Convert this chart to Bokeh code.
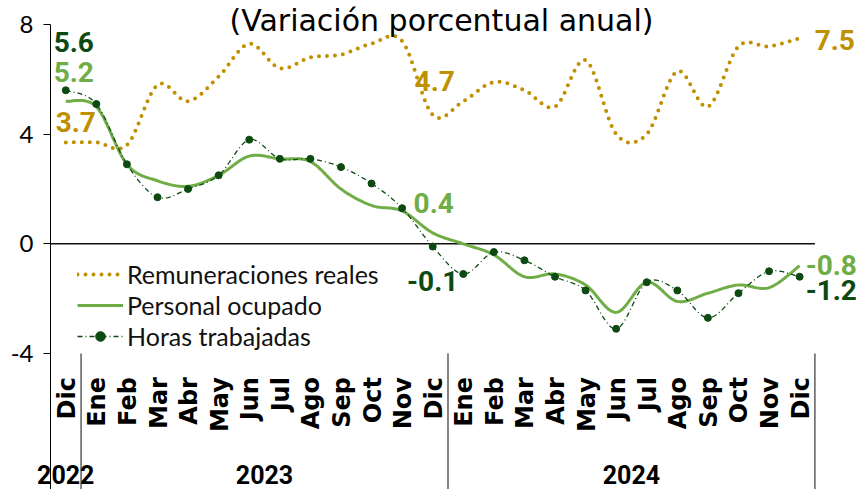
import numpy as np
from bokeh.plotting import figure
from bokeh.models import Range1d, FixedTicker, Legend, LegendItem, Label, PrintfTickFormatter
from bokeh.core.properties import value
from bokeh.embed import file_html
from bokeh.resources import INLINE

# ---------------- data ----------------
months = ["Dic", "Ene", "Feb", "Mar", "Abr", "May", "Jun", "Jul", "Ago", "Sep", "Oct", "Nov", "Dic",
          "Ene", "Feb", "Mar", "Abr", "May", "Jun", "Jul", "Ago", "Sep", "Oct", "Nov", "Dic"]
years = ["2022", "2023", "2024"]
months_per_year = [1, 12, 12]

remuneraciones = [3.7, 3.7, 3.6, 5.8, 5.2, 6.1, 7.3, 6.4, 6.8, 6.9, 7.3, 7.4, 4.7,
                  5.2, 5.9, 5.6, 5.0, 6.7, 4.0, 4.0, 6.3, 5.0, 7.2, 7.2, 7.5]
personal = [5.2, 5.0, 2.9, 2.3, 2.1, 2.5, 3.2, 3.1, 3.0, 2.0, 1.4, 1.2, 0.4,
            0.0, -0.4, -1.2, -1.1, -1.5, -2.5, -1.4, -2.1, -1.8, -1.5, -1.6, -0.8]
horas = [5.6, 5.1, 2.9, 1.7, 2.0, 2.5, 3.8, 3.1, 3.1, 2.8, 2.2, 1.3, -0.1,
         -1.1, -0.3, -0.6, -1.2, -1.7, -3.1, -1.4, -1.7, -2.7, -1.8, -1.0, -1.2]
y_ticks = [-4, 0, 4, 8]

GOLD = "#BF9000"
LGREEN = "#70AD47"
DGREEN = "#0D4A12"

xs = np.arange(len(months), dtype=float)
n = len(months)


def smooth(x, y, steps=20):
    """Excel-like smoothed line (Catmull-Rom drawn as cubic Bezier)."""
    x = np.asarray(x, float)
    y = np.asarray(y, float)
    N = len(x)
    outx, outy = [], []
    t = np.linspace(0, 1, steps, endpoint=False)
    for i in range(N - 1):
        i0 = max(i - 1, 0)
        i3 = min(i + 2, N - 1)
        p1 = np.array([x[i], y[i]])
        p2 = np.array([x[i + 1], y[i + 1]])
        c1 = p1 + (p2 - np.array([x[i0], y[i0]])) / 6.0
        c2 = p2 - (np.array([x[i3], y[i3]]) - p1) / 6.0
        for tt in t:
            b = ((1 - tt) ** 3) * p1 + 3 * ((1 - tt) ** 2) * tt * c1 + 3 * (1 - tt) * tt ** 2 * c2 + tt ** 3 * p2
            outx.append(b[0])
            outy.append(b[1])
    outx.append(x[-1])
    outy.append(y[-1])
    return outx, outy


W, H = 856, 489
XMIN, XMAX = -2.135, 25.86
YMIN, YMAX = -8.96, 8.875
AXIS_X = -0.5
p = figure(width=W, height=H, output_backend="svg", toolbar_location=None,
           x_axis_type=None, x_range=Range1d(XMIN, XMAX), y_range=Range1d(YMIN, YMAX),
           min_border_left=0, min_border_right=0, min_border_top=0, min_border_bottom=0)
p.outline_line_color = None
p.grid.visible = False

# y axis, placed at the left edge of the first category
ax = p.yaxis[0]
ax.fixed_location = AXIS_X
ax.bounds = (YMIN, max(y_ticks))
ax.ticker = FixedTicker(ticks=y_ticks)
ax.formatter = PrintfTickFormatter(format="%d")
ax.minor_tick_line_color = None
ax.major_tick_out = 7
ax.major_tick_in = 0
ax.major_label_standoff = 10
ax.major_label_text_font = "Lato"
ax.major_label_text_font_size = "24px"
ax.major_label_text_color = "black"
ax.axis_line_color = "black"
ax.major_tick_line_color = "black"

# zero line across the categories
p.segment(x0=[AXIS_X], y0=[0], x1=[n - 0.5], y1=[0], line_color="#111111", line_width=1.5)

# year separators
bounds = np.cumsum(months_per_year) - 0.5
p.segment(x0=bounds, y0=[min(y_ticks)] * len(bounds), x1=bounds, y1=[YMIN] * len(bounds),
          line_color="#333333", line_width=1.2)

# series
gx, gy = smooth(xs, remuneraciones)
r_gold = p.line(gx, gy, line_color=GOLD, line_width=4, line_dash="0 8", line_cap="round")
lx, ly = smooth(xs, personal)
r_green = p.line(lx, ly, line_color=LGREEN, line_width=3)
hx, hy = smooth(xs, horas)
r_hl = p.line(hx, hy, line_color=DGREEN, line_width=1.3, line_dash="5 3 1 3")
r_hd = p.scatter(xs, horas, size=7, color=DGREEN)

# month labels
p.text(x=xs, y=[-4.86] * n, text=months, angle=np.pi / 2, text_align="right",
       text_baseline="middle", text_font=value("DejaVu Sans"), text_font_style="bold",
       text_font_size="24px", text_color="black", x_offset=1)

# year labels
starts = np.cumsum([0] + months_per_year[:-1])
centers = [s + (c - 1) / 2 for s, c in zip(starts, months_per_year)]
p.text(x=centers, y=[-8.42] * len(years), text=years, text_align="center",
       text_baseline="middle", text_font=value("Roboto"), text_font_style="bold",
       text_font_size="25px", text_color="black")


# value labels
def vlabel(series, idx, color, dx, dy, align="center"):
    p.text(x=[xs[idx]], y=[series[idx]], text=[f"{series[idx]:.1f}"], x_offset=dx, y_offset=dy,
           text_align=align, text_baseline="middle", text_font=value("Roboto"),
           text_font_style="bold", text_font_size="28px", text_color=color)


vlabel(horas, 0, DGREEN, 8, -48)
vlabel(personal, 0, LGREEN, 8, -29)
vlabel(remuneraciones, 0, GOLD, 10, -20)
vlabel(remuneraciones, 12, GOLD, 2, -34)
vlabel(personal, 12, LGREEN, 1, -30)
vlabel(horas, 12, DGREEN, 0, 34)
vlabel(remuneraciones, 24, GOLD, 15, 2, "left")
vlabel(personal, 24, LGREEN, 6, -1, "left")
vlabel(horas, 24, DGREEN, 6, 13, "left")

# legend
legend = Legend(items=[
    LegendItem(label="Remuneraciones reales", renderers=[r_gold]),
    LegendItem(label="Personal ocupado", renderers=[r_green]),
    LegendItem(label="Horas trabajadas", renderers=[r_hl, r_hd]),
], location=(77, 138), orientation="vertical", padding=0, margin=0, spacing=1,
    label_height=24, glyph_height=24, glyph_width=46, label_standoff=4,
    label_text_font="Lato", label_text_font_size="25px", label_text_color="#111111",
    background_fill_alpha=0, border_line_alpha=0)
p.add_layout(legend)

# title
p.add_layout(Label(x=441, y=469, x_units="screen", y_units="screen",
                   text="(Variación porcentual anual)", text_align="center",
                   text_baseline="alphabetic", text_font="DejaVu Sans", text_font_size="30px",
                   text_color="black"))

open("out.html", "w").write(file_html(p, INLINE))
